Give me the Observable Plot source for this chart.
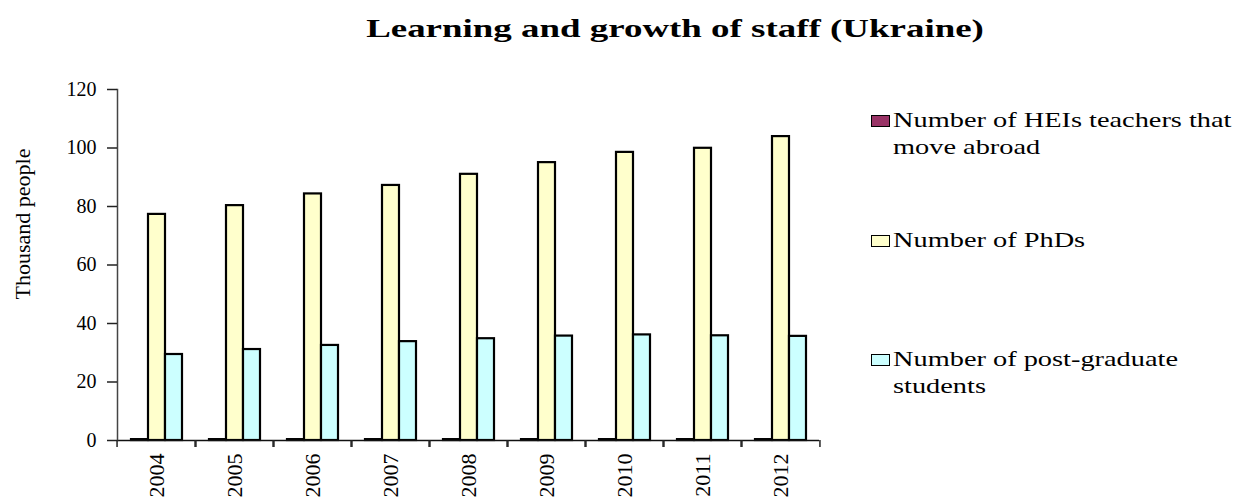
<!DOCTYPE html>
<html>
<head>
<meta charset="utf-8">
<script src="https://cdn.jsdelivr.net/npm/d3@7"></script>
<script src="https://cdn.jsdelivr.net/npm/@observablehq/plot@0.6"></script>
<style>
  html, body { margin: 0; padding: 0; background: #fff; }
  #wrap { position: relative; width: 1253px; height: 503px; overflow: hidden; font-family: "Liberation Serif", "Times New Roman", serif; color: #000; }
  #title { position: absolute; top: 14px; left: 675px; transform: translateX(-50%) scaleX(1.42); white-space: nowrap; font-weight: bold; font-size: 26px; }
  #ylabel { position: absolute; left: 23px; top: 224px; transform: translate(-50%, -50%) rotate(-90deg); white-space: nowrap; font-size: 22px; }
  #chart { position: absolute; left: 0; top: 0; }
  .leg { position: absolute; left: 871px; width: 370px; font-size: 21px; line-height: 27px; }
  .leg .sw { position: absolute; left: 0; top: 8px; width: 17px; height: 10px; border: 1.5px solid #000; }
  .leg .tx { margin-left: 22px; width: 270px; transform: scaleX(1.35); transform-origin: left center; }
</style>
</head>
<body>
<div id="wrap">
  <div id="title">Learning and growth of staff (Ukraine)</div>
  <div id="ylabel">Thousand people</div>
  <div id="chart"></div>
  <div id="legend"></div>
</div>
<script>
const years = ["2004", "2005", "2006", "2007", "2008", "2009", "2010", "2011", "2012"];
const seriesNames = [
  "Number of HEIs teachers that move abroad",
  "Number of PhDs",
  "Number of post-graduate students"
];
const seriesColors = ["#993366", "#FFFFCC", "#CCFFFF"];
const heisAbroad = [0.3, 0.3, 0.3, 0.3, 0.3, 0.3, 0.3, 0.3, 0.3];
const phds = [77.3, 80.3, 84.3, 87.2, 91.0, 95.0, 98.5, 99.9, 103.9];
const postGraduates = [29.4, 31.1, 32.5, 33.8, 34.8, 35.7, 36.1, 35.8, 35.6];
const yTicks = [0, 20, 40, 60, 80, 100, 120];

const seriesValues = [heisAbroad, phds, postGraduates];
const rows = years.flatMap((yr, i) =>
  seriesNames.map((s, k) => ({ year: yr, series: s, value: seriesValues[k][i] }))
);

const W = 840, H = 503, mL = 113, mR = 17;
const band = (W - mL - mR) / years.length;

const chart = Plot.plot({
  width: W,
  height: H,
  marginTop: 89,
  marginBottom: 63,
  marginLeft: mL,
  marginRight: mR,
  style: { fontFamily: "Liberation Serif, Times New Roman, serif", background: "transparent", overflow: "visible" },
  fx: { domain: years, padding: 0, label: null, axis: null },
  x: { domain: seriesNames, paddingInner: 0, paddingOuter: 0.73, axis: null },
  y: { domain: [0, 120], label: null },
  color: { domain: seriesNames, range: seriesColors },
  marks: [
    Plot.barY(rows, { fx: "year", x: "series", y: "value", fill: "series", stroke: "#000", strokeWidth: 2.2 }),
    Plot.ruleY([0], { stroke: "#111", strokeWidth: 1.5 }),
    Plot.frame({ anchor: "left", facet: "super", stroke: "#444", strokeWidth: 1.5 }),
    Plot.axisY({ ticks: yTicks, tickSize: 10, tickPadding: 11, fontSize: 20, stroke: "#222", strokeWidth: 1.5, label: null, tickFormat: d => String(d), style: "letter-spacing:3.6px" }),
    Plot.axisFx({ anchor: "bottom", tickSize: 7, text: null, dx: band / 2, stroke: "#222", strokeWidth: 1.5, label: null }),
    Plot.axisFx({ anchor: "bottom", tickSize: 7, text: null, dx: -band / 2, stroke: "#222", strokeWidth: 1.5, label: null }),
    Plot.axisFx({ anchor: "bottom", tickSize: 0, tickPadding: 13, tickRotate: -90, fontSize: 22, label: null })
  ]
});
document.getElementById("chart").appendChild(chart);

// legend
const legTops = [107, 227, 346];
const legend = document.getElementById("legend");
seriesNames.forEach((s, k) => {
  const d = document.createElement("div");
  d.className = "leg";
  d.style.top = legTops[k] + "px";
  const sw = document.createElement("div");
  sw.className = "sw";
  sw.style.background = seriesColors[k];
  const tx = document.createElement("div");
  tx.className = "tx";
  tx.textContent = s;
  d.appendChild(sw);
  d.appendChild(tx);
  legend.appendChild(d);
});
</script>
</body>
</html>
